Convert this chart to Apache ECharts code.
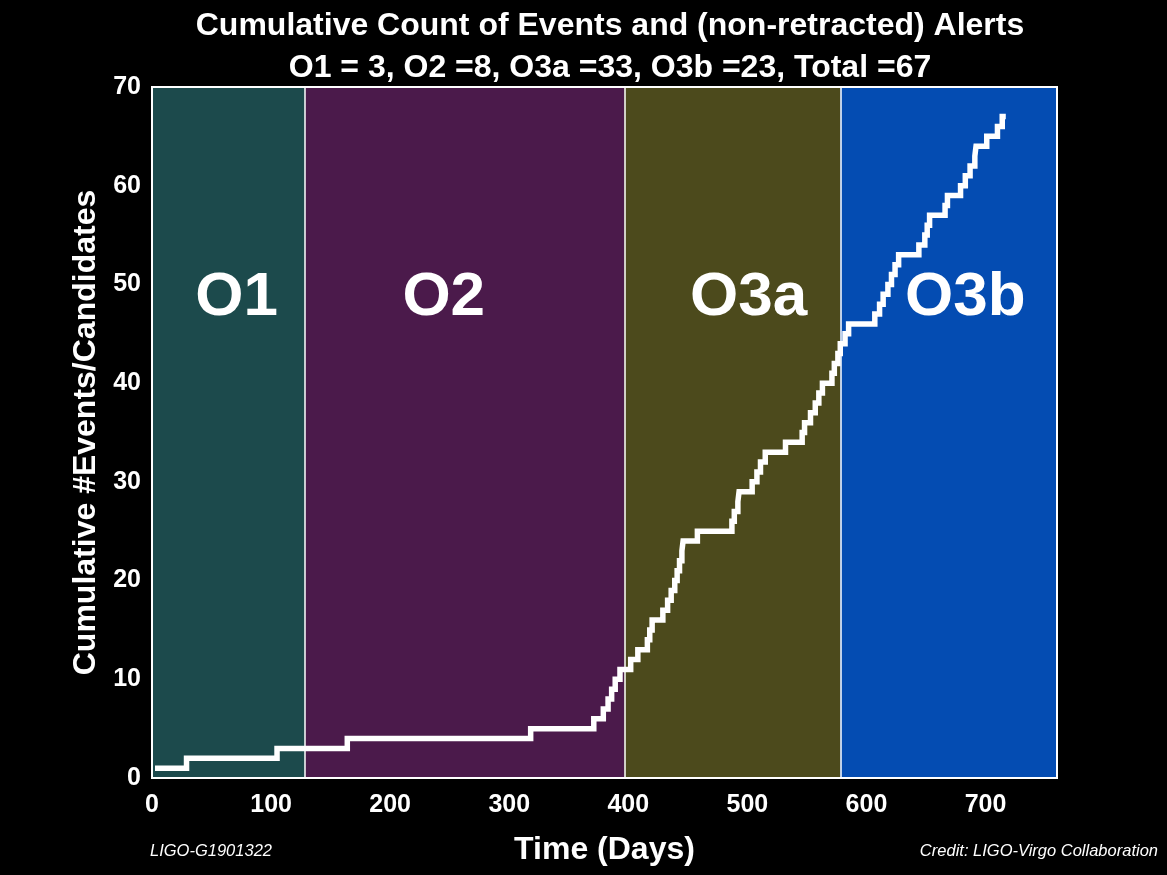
<!DOCTYPE html>
<html>
<head>
<meta charset="utf-8">
<script src="https://cdn.jsdelivr.net/npm/echarts@6/dist/echarts.min.js"></script>
<style>
html,body{margin:0;padding:0;background:#000;}
#chart{width:1167px;height:875px;}
</style>
</head>
<body>
<div id="chart"></div>
<script>
// Event times (days) and cumulative count after each event
const eventDays = [2.5, 29, 105, 164, 318, 371, 379, 383, 386, 389, 393,
  402, 408, 416, 418, 420, 429, 433, 436, 439, 441, 443, 445, 446, 458,
  487, 489, 492, 493, 504, 508, 511, 515, 532, 546, 548, 553, 557, 560, 563,
  571, 573, 576, 578, 582, 585, 607, 611, 614, 618, 621, 624, 627, 644, 649,
  651, 653, 666, 668, 679, 683, 687, 691, 692, 701, 710, 714, 717];
const cumulativeCounts = [1, 2, 3, 4, 5, 6, 7, 8, 9, 10, 11,
  12, 13, 14, 15, 16, 17, 18, 19, 20, 21, 22, 23, 24, 25,
  26, 27, 28, 29, 30, 31, 32, 33, 34, 35, 36, 37, 38, 39, 40,
  41, 42, 43, 44, 45, 46, 47, 48, 49, 50, 51, 52, 53, 54, 55,
  56, 57, 58, 59, 60, 61, 62, 63, 64, 65, 66, 67, 67];

// Observing runs
const runNames = ['O1', 'O2', 'O3a', 'O3b'];
const runStarts = [0, 128.6, 396.6, 578];
const runEnds = [128.6, 396.6, 578, 760];
const runColors = ['#1c4a4c', '#4b1a4b', '#4c4a1c', '#044cb2'];
const runLabelX = [71, 245, 501, 683];
const runLabelY = 48.6;

const xTicks = [0, 100, 200, 300, 400, 500, 600, 700];
const yTicks = [0, 10, 20, 30, 40, 50, 60, 70];

const titleText = 'Cumulative Count of Events and (non-retracted) Alerts';
const subtitleText = 'O1 = 3, O2 =8, O3a =33, O3b =23, Total =67';

const FONT = 'Liberation Sans, Arial, Helvetica, sans-serif';

const chart = echarts.init(document.getElementById('chart'));

const stepData = eventDays.map((d, i) => [d, cumulativeCounts[i]]);

chart.setOption({
  backgroundColor: '#000',
  animation: false,
  title: [
    {text: titleText, left: 605, textAlign: 'center', top: 5,
     textStyle: {color: '#fff', fontSize: 32, fontWeight: 'bold', fontFamily: FONT}},
    {text: subtitleText, left: 605, textAlign: 'center', top: 47,
     textStyle: {color: '#fff', fontSize: 32, fontWeight: 'bold', fontFamily: FONT}},
    {text: 'LIGO-G1901322', left: 145, top: 838,
     textStyle: {color: '#fff', fontSize: 16.5, fontStyle: 'italic', fontWeight: 'normal', fontFamily: FONT}},
    {text: 'Credit: LIGO-Virgo Collaboration', right: 4, top: 838,
     textStyle: {color: '#fff', fontSize: 16.5, fontStyle: 'italic', fontWeight: 'normal', fontFamily: FONT}}
  ],
  grid: {left: 152, right: 110, top: 87, bottom: 97, show: true, z: 10,
         backgroundColor: 'transparent', borderColor: '#fff', borderWidth: 2},
  xAxis: {
    type: 'value', min: 0, max: 760, interval: 100,
    name: 'Time (Days)', nameLocation: 'middle', nameGap: 56,
    nameTextStyle: {color: '#fff', fontSize: 32, fontWeight: 'bold', fontFamily: FONT},
    axisLine: {show: false},
    axisTick: {show: false},
    splitLine: {show: false},
    axisLabel: {color: '#fff', fontSize: 25, fontWeight: 'bold', fontFamily: FONT, margin: 15,
      showMaxLabel: false,
      formatter: v => xTicks.includes(v) ? String(v) : ''}
  },
  yAxis: {
    type: 'value', min: 0, max: 70, interval: 10,
    name: 'Cumulative #Events/Candidates', nameLocation: 'middle', nameGap: 49,
    nameTextStyle: {color: '#fff', fontSize: 32, fontWeight: 'bold', fontFamily: FONT},
    axisLine: {show: false},
    axisTick: {show: false},
    splitLine: {show: false},
    axisLabel: {color: '#fff', fontSize: 25, fontWeight: 'bold', fontFamily: FONT, margin: 11,
      formatter: v => yTicks.includes(v) ? String(v) : ''}
  },
  series: [
    {
      type: 'line', data: [], silent: true,
      markArea: {
        silent: true,
        label: {show: false},
        data: runNames.map((n, i) => [
          {xAxis: runStarts[i], yAxis: 0, itemStyle: {color: runColors[i], opacity: 1}},
          {xAxis: runEnds[i], yAxis: 70}
        ])
      },
      markLine: {
        silent: true, symbol: 'none', label: {show: false},
        lineStyle: {color: '#fff', width: 1.5, type: 'solid'},
        data: runStarts.slice(1).map(x => ({xAxis: x}))
      }
    },
    {
      type: 'scatter', symbolSize: 0, silent: true, z: 4,
      itemStyle: {opacity: 1},
      data: runNames.map((n, i) => ({value: [runLabelX[i], runLabelY], name: n})),
      label: {show: true, position: 'inside', formatter: p => p.name, opacity: 1,
        color: '#ffffff', fontSize: 62, fontWeight: 'bold', fontFamily: FONT}
    },
    {
      type: 'line', step: 'end', data: stepData, symbol: 'none', z: 5,
      lineStyle: {color: '#fff', width: 5.5, join: 'miter', cap: 'butt'}
    }
  ]
});
</script>
</body>
</html>
